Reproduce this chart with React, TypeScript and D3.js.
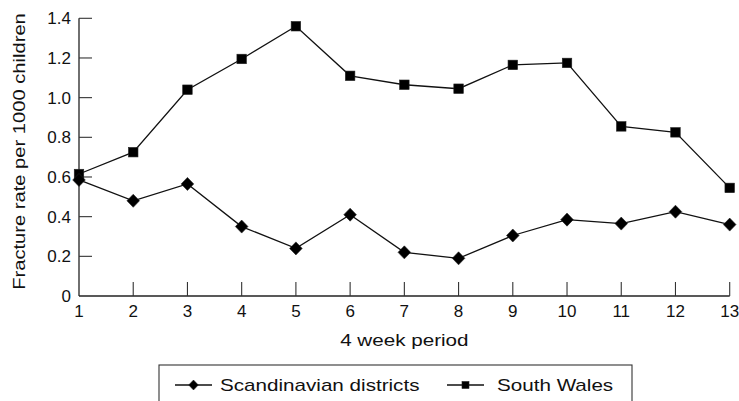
import React from "react";
import * as d3 from "d3";

// 4 week periods
const periods = [1, 2, 3, 4, 5, 6, 7, 8, 9, 10, 11, 12, 13];
const scandinavian = [0.585, 0.48, 0.565, 0.35, 0.24, 0.41, 0.22, 0.19, 0.305, 0.385, 0.365, 0.425, 0.36];
const southWales = [0.615, 0.725, 1.04, 1.195, 1.36, 1.11, 1.065, 1.045, 1.165, 1.175, 0.855, 0.825, 0.545];
const yTicks = [0, 0.2, 0.4, 0.6, 0.8, 1.0, 1.2, 1.4];
const seriesNames = ["Scandinavian districts", "South Wales"];

const W = 739;
const H = 401;
const font = "'Liberation Sans', Arial, Helvetica, sans-serif";
const stretch = 1.29; // the source type is set wide

function Marker({ kind, x, y, s }: { kind: string; x: number; y: number; s: number }) {
  if (kind === "square") {
    return <rect x={x - s / 2} y={y - s / 2} width={s} height={s} fill="#000" stroke="#222" strokeWidth={0.6} />;
  }
  const h = s * 0.6;
  const v = s * 0.62;
  return (
    <path d={`M${x},${y - v} L${x + h},${y} L${x},${y + v} L${x - h},${y} Z`} fill="#000" stroke="#222" strokeWidth={0.6} />
  );
}

export default function App() {
  const x = d3.scaleLinear().domain([1, 13]).range([79, 729.7]);
  const y = d3.scaleLinear().domain([0, 1.4]).range([296, 18.3]);

  const line = d3
    .line<number>()
    .x((d, i) => x(periods[i]))
    .y((d) => y(d));

  const fmt = (v: number) => (v === 0 ? "0" : d3.format(".1f")(v));

  return (
    <svg width={W} height={H} style={{ position: "absolute", left: 0, top: 0, background: "#fff" }} fontFamily={font}>
      {/* axes */}
      <line x1={x(1)} x2={x(1)} y1={y(1.4)} y2={y(0)} stroke="#222" strokeWidth={1.3} />
      <line x1={x(1)} x2={x(13)} y1={y(0)} y2={y(0)} stroke="#222" strokeWidth={1.3} />
      {yTicks.map((t) => (
        <g key={"y" + t}>
          {t > 0 && <line x1={x(1)} x2={x(1) + 13} y1={y(t)} y2={y(t)} stroke="#333" strokeWidth={1.1} />}
          <text x={71} y={y(t)} dy="0.36em" textAnchor="end" fontSize={17} fill="#111">
            {fmt(t)}
          </text>
        </g>
      ))}
      {periods.map((p) => (
        <g key={"x" + p}>
          {p > 1 && <line x1={x(p)} x2={x(p)} y1={y(0)} y2={y(0) - 14} stroke="#333" strokeWidth={1.1} />}
          <text x={x(p)} y={317} textAnchor="middle" fontSize={17} fill="#111">
            {p}
          </text>
        </g>
      ))}

      {/* axis titles */}
      <g transform={`translate(${(x(1) + x(13)) / 2},346) scale(${stretch},1)`}>
        <text textAnchor="middle" fontSize={16} fill="#111">4 week period</text>
      </g>
      <g transform={`translate(25,151.5) rotate(-90) scale(1.26,1)`}>
        <text textAnchor="middle" fontSize={16} fill="#111">Fracture rate per 1000 children</text>
      </g>

      {/* series */}
      <path d={line(scandinavian) || ""} fill="none" stroke="#111" strokeWidth={1.3} />
      <path d={line(southWales) || ""} fill="none" stroke="#111" strokeWidth={1.3} />
      {southWales.map((v, i) => (
        <Marker key={"sw" + i} kind="square" x={x(periods[i])} y={y(v)} s={9.5} />
      ))}
      {scandinavian.map((v, i) => (
        <Marker key={"sc" + i} kind="diamond" x={x(periods[i])} y={y(v)} s={10.5} />
      ))}

      {/* legend */}
      <rect x={159} y={365} width={473} height={44} fill="#fff" stroke="#333" strokeWidth={1.1} />
      {[
        { kind: "diamond", x0: 175, tx: 220 },
        { kind: "square", x0: 447, tx: 497 },
      ].map((l, i) => (
        <g key={"lg" + i}>
          <line x1={l.x0} x2={l.x0 + 37} y1={385} y2={385} stroke="#111" strokeWidth={1.3} />
          <Marker kind={l.kind} x={l.x0 + 18.5} y={385} s={l.kind === "square" ? 7 : 8} />
          <g transform={`translate(${l.tx},391) scale(${stretch},1)`}>
            <text fontSize={16} fill="#111">{seriesNames[i]}</text>
          </g>
        </g>
      ))}
    </svg>
  );
}
